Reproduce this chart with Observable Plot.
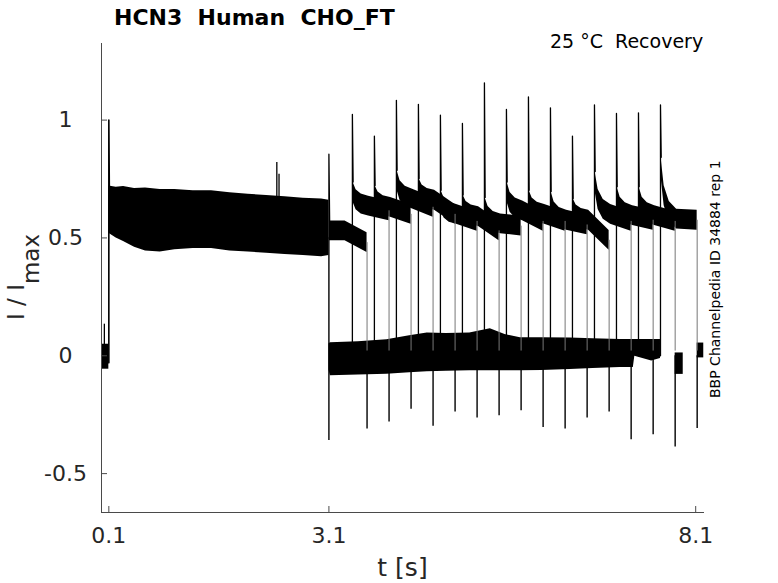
<!DOCTYPE html>
<html><head><meta charset="utf-8">
<script src="https://cdn.jsdelivr.net/npm/d3@7"></script>
<script src="https://cdn.jsdelivr.net/npm/@observablehq/plot@0.6"></script>
<style>
html,body{margin:0;padding:0;background:#fff;overflow:hidden}
#wrap{position:relative;width:778px;height:583px;font-family:"DejaVu Sans",sans-serif;color:#262626}
#wrap svg{position:absolute;left:0;top:0}
.lab{position:absolute;white-space:pre;line-height:1}
</style></head><body><div id="wrap"></div>
<script>
// ---- texts ----
const titleText = "HCN3  Human  CHO_FT";
const condText = "25 °C  Recovery";
const sideText = "BBP Channelpedia ID 34884 rep 1";
const xLabel = "t [s]";

// ---- axes ----
const xDomain = [0, 8.22];
const yDomain = [-0.665, 1.325];
const xTicks = [0.1, 3.1, 8.1];
const yTicks = [-0.5, 0, 0.5, 1];

// ---- noisy bands (time, lower edge, upper edge) ----
const preT = [0.0, 0.1], preLo = [-0.057, -0.057], preHi = [0.049, 0.049];
const p1T  = [0.10, 0.20, 0.30, 0.45, 0.60, 0.80, 1.00, 1.25, 1.50, 1.75, 2.00, 2.25, 2.50, 2.75, 3.00, 3.10];
const p1Lo = [0.52, 0.50, 0.485, 0.46, 0.445, 0.44, 0.45, 0.455, 0.455, 0.445, 0.44, 0.435, 0.43, 0.425, 0.42, 0.425];
const p1Hi = [0.72, 0.715, 0.718, 0.71, 0.712, 0.705, 0.706, 0.70, 0.70, 0.692, 0.685, 0.68, 0.675, 0.668, 0.665, 0.66];
const holdT  = [3.10, 3.12, 3.50, 3.89, 4.20, 4.44, 4.70, 5.02, 5.30, 5.50, 5.71, 6.00, 6.39, 6.70, 7.07, 7.25, 7.27, 7.50, 7.62];
const holdLo = [-0.06, -0.085, -0.082, -0.078, -0.072, -0.068, -0.066, -0.064, -0.064, -0.064, -0.064, -0.062, -0.058, -0.054, -0.05, -0.05, -0.002, -0.022, -0.012];
const holdHi = [0.05, 0.055, 0.06, 0.068, 0.085, 0.097, 0.095, 0.097, 0.115, 0.09, 0.076, 0.076, 0.075, 0.072, 0.069, 0.069, 0.069, 0.069, 0.069];
const blobAT = [7.82, 7.93], blobALo = [-0.079, -0.079], blobAHi = [0.012, 0.012];
const blobBT = [8.12, 8.21], blobBLo = [-0.009, -0.009], blobBHi = [0.054, 0.054];

// ---- pulse 1 ----
const p1Onset = 0.1, p1Peak = 1.0, p1End = 3.1, p1EndTrough = -0.359;
const spikeT = [0.039, 2.39, 2.42];
const spikeBase = [0.0, 0.62, 0.62];
const spikeTop = [0.134, 0.82, 0.77];

// ---- recovery pulses (one per sweep) ----
const onsetT  = [3.10, 3.42, 3.72, 4.02, 4.32, 4.62, 4.92, 5.22, 5.52, 5.82, 6.12, 6.42, 6.72, 7.02, 7.32, 7.62];
const endT    = [3.62, 3.92, 4.22, 4.52, 4.82, 5.12, 5.42, 5.72, 6.02, 6.32, 6.62, 6.92, 7.22, 7.52, 7.82, 8.12];
const peakI   = [0.855, 1.024, 0.932, 1.084, 1.067, 1.021, 0.986, 1.158, 1.045, 1.098, 1.052, 0.932, 1.064, 1.028, 1.031, 1.064];
const troughI = [-0.311, -0.281, -0.227, -0.299, -0.239, -0.264, -0.254, -0.233, -0.304, -0.311, -0.264, -0.239, -0.356, -0.335, -0.387, -0.309];
const startLevel = [0.53, 0.635, 0.63, 0.665, 0.66, 0.60, 0.59, 0.56, 0.615, 0.60, 0.575, 0.575, 0.60, 0.595, 0.595, 0.58];
const bumpI      = [0.00, 0.06, 0.05, 0.08, 0.05, 0.06, 0.05, 0.07, 0.08, 0.06, 0.08, 0.05, 0.14, 0.08, 0.08, 0.22];
const endLevel   = [0.48, 0.615, 0.60, 0.63, 0.60, 0.57, 0.53, 0.55, 0.57, 0.57, 0.555, 0.49, 0.57, 0.575, 0.57, 0.575];
const bandHalf = 0.042; // half-thickness of the noisy trace of one sweep

// ---- build tables ----
const band = (ts, lo, hi, g) => ts.map((t, i) => ({g, t, lo: lo[i], hi: hi[i]}));
const bands = [
  ...band(preT, preLo, preHi, "pre"),
  ...band(p1T, p1Lo, p1Hi, "p1"),
  ...band(holdT, holdLo, holdHi, "hold"),
  ...band(blobAT, blobALo, blobAHi, "a"),
  ...band(blobBT, blobBLo, blobBHi, "b")
];
const sweeps = onsetT.map((s, k) => ({k, s, e: endT[k], peak: peakI[k], trough: troughI[k],
  L0: startLevel[k], bump: bumpI[k], L1: endLevel[k], base: k === 0 ? 0.5 : 0.0}));
const onsetPts = sweeps.flatMap(d => [
  {k: d.k, t: d.s, v: d.base},
  {k: d.k, t: d.s, v: d.peak},
  {k: d.k, t: d.s + 0.01, v: d.L0 + d.bump + bandHalf}
]);
const plateau = sweeps.flatMap(d => [
  {k: d.k, t: d.s + 0.008, v: d.L0 + d.bump},
  {k: d.k, t: d.s + 0.05, v: d.L0 + d.bump * 0.45},
  {k: d.k, t: d.s + 0.12, v: d.L0 + d.bump * 0.15},
  {k: d.k, t: d.s + 0.22, v: d.L0},
  {k: d.k, t: d.e, v: d.L1}
]);
const p1Start = [
  {t: p1Onset, v: -0.03}, {t: p1Onset, v: p1Peak}, {t: p1Onset + 0.008, v: 0.66}
];
const spikes = spikeT.map((t, i) => ({t, lo: spikeBase[i], hi: spikeTop[i]}));

const frameW = 778 - 101 - 74, frameH = 583 - 43 - 71;
const axisColor = "#4a4a4a";

const chart = Plot.plot({
  width: 778, height: 583,
  marginLeft: 101, marginRight: 74, marginTop: 43, marginBottom: 71,
  style: {background: "#fff", fontFamily: "DejaVu Sans, sans-serif", color: "#262626"},
  x: {domain: xDomain},
  y: {domain: yDomain},
  marks: [
    Plot.areaY(bands, {x: "t", y1: "lo", y2: "hi", z: "g", fill: "#000"}),
    Plot.areaY(plateau, {x: "t", y1: d => d.v - bandHalf, y2: d => d.v + bandHalf, z: "k", fill: "#000"}),
    Plot.ruleX(sweeps, {x: "e", y1: "L1", y2: d => 0.02, stroke: "#777", strokeWidth: 1}),
    Plot.ruleX(sweeps, {x: "e", y1: "trough", y2: d => 0.0, stroke: "#000", strokeWidth: 1.4}),
    Plot.line(onsetPts, {x: "t", y: "v", z: "k", stroke: "#000", strokeWidth: 1.3}),
    Plot.ruleX([p1End], {x: d => d, y1: d => p1EndTrough, y2: d => 0.5, stroke: "#000", strokeWidth: 1.4}),
    Plot.line(p1Start, {x: "t", y: "v", stroke: "#000", strokeWidth: 1.6}),
    Plot.ruleX(spikes, {x: "t", y1: "lo", y2: "hi", stroke: "#000", strokeWidth: 1.3}),
    // axes
    Plot.ruleX([xDomain[0]], {stroke: axisColor, strokeWidth: 1}),
    Plot.ruleY([yDomain[0]], {stroke: axisColor, strokeWidth: 1}),
    Plot.tickX(xTicks, {x: d => d, insetTop: frameH - 6, stroke: axisColor}),
    Plot.tickY(yTicks, {y: d => d, insetRight: frameW - 6, stroke: axisColor}),
    Plot.axisX({ticks: xTicks, tickSize: 0, tickPadding: 15, tickFormat: d => String(d),
      fontSize: 22, fill: "#262626", label: null}),
    Plot.axisY({ticks: yTicks, tickSize: 0, tickPadding: 36, textAnchor: "middle", tickFormat: d => String(d),
      fontSize: 22, fill: "#262626", label: null})
  ]
});

const wrap = document.getElementById("wrap");
wrap.appendChild(chart);

function addLabel(text, css, html) {
  const d = document.createElement("div");
  d.className = "lab";
  if (html) d.innerHTML = html; else d.textContent = text;
  Object.assign(d.style, css);
  wrap.appendChild(d);
  return d;
}
addLabel(titleText, {left: "114px", top: "7px", fontSize: "22px", fontWeight: "bold", color: "#000"});
addLabel(condText, {left: "550px", top: "31.5px", fontSize: "19px", color: "#000"});
addLabel(xLabel, {left: "402.5px", top: "555px", fontSize: "25px", transform: "translateX(-50%)"});
addLabel(null, {left: "5px", top: "320px", fontSize: "23px", transformOrigin: "0 0", transform: "rotate(-90deg)"},
  'I / I<span style="position:relative;top:15px">max</span>');
addLabel(sideText, {left: "708px", top: "398px", fontSize: "14px", color: "#000", transformOrigin: "0 0", transform: "rotate(-90deg)"});
</script></body></html>
